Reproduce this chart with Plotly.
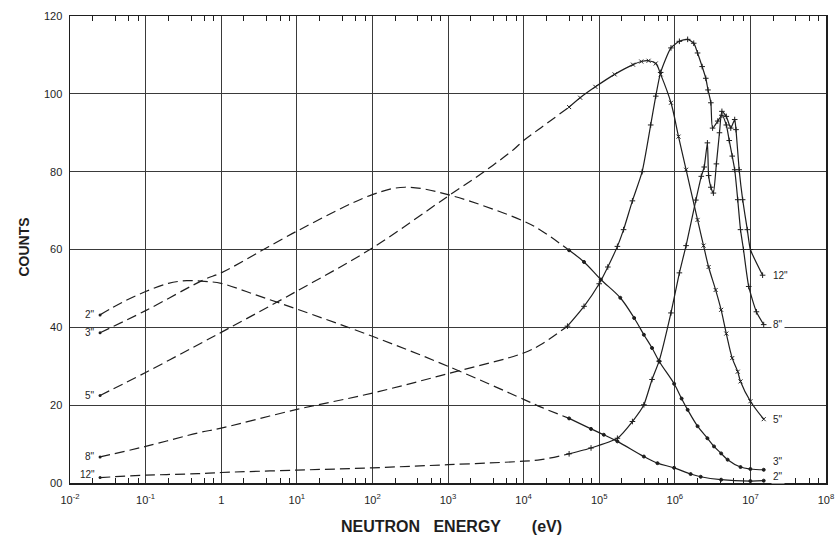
import plotly.graph_objects as go

# ---------------- data (energy in eV, counts) ----------------
e2_dash = [0.025, 0.05, 0.1, 0.2, 0.35, 0.6, 1, 3, 10, 100, 1000, 1e4, 1.7e4, 4e4]
c2_dash = [43.2, 46.5, 49.2, 51.3, 52.0, 51.8, 51.3, 48.2, 44.7, 37.7, 30.0, 21.5, 19.5, 16.6]
e2_sol = [4e4, 7.8e4, 1.15e5, 1.74e5, 3.9e5, 5.9e5, 9.8e5, 1.62e6, 2.2e6, 4.1e6, 1e7, 1.5e7]
c2_sol = [16.6, 13.9, 12.4, 10.7, 6.8, 5.1, 3.9, 2.3, 1.6, 0.85, 0.5, 0.6]

e3_dash = [0.025, 0.1, 0.6, 1, 10, 100, 270, 1000, 1e4, 1.7e4, 4e4]
c3_dash = [38.6, 44.3, 52.3, 54.0, 64.7, 74.1, 76.0, 74.1, 67.3, 64.9, 59.8]
e3_sol = [4e4, 6.3e4, 1.05e5, 1.9e5, 2.9e5, 3.9e5, 5e5, 6.2e5, 9.8e5, 1.23e6,
          1.48e6, 2e6, 2.7e6, 3.3e6, 4.1e6, 5e6, 7.4e6, 1e7, 1.5e7]
c3_sol = [59.8, 56.8, 52.3, 47.6, 42.4, 38.1, 34.7, 31.3, 25.5, 21.7,
          18.8, 14.6, 11.5, 9.4, 7.6, 6.0, 4.1, 3.6, 3.4]

e5_dash = [0.025, 0.1, 0.6, 1, 10, 100, 1000, 3000, 7400, 1e4, 1.7e4, 4e4]
c5_dash = [22.5, 28.4, 36.4, 38.7, 49.3, 60.4, 73.7, 80.0, 85.7, 88.0, 91.3, 96.6]
e5_sol = [4e4, 5.6e4, 8.9e4, 1.6e5, 2.8e5, 3.6e5, 4.5e5, 5.6e5, 6.5e5, 8.9e5, 1.12e6, 1.41e6,
          2.0e6, 2.4e6, 2.8e6, 3.47e6, 4.1e6, 4.8e6, 5.75e6, 6.8e6, 7.4e6, 1e7, 1.5e7]
c5_sol = [96.6, 99.0, 101.8, 105.0, 107.5, 108.3, 108.5, 107.8, 105.0, 97.7, 89.0, 80.5,
          67.6, 61.0, 55.5, 49.6, 44.5, 38.4, 32.1, 28.6, 26.1, 21.0, 16.4]

e8_dash = [0.025, 0.1, 0.5, 1, 10, 100, 1000, 1e4, 1.7e4, 3.8e4]
c8_dash = [6.7, 9.4, 12.9, 14.1, 18.9, 23.1, 28.1, 33.4, 35.6, 40.3]
e8_sol = [3.8e4, 6.3e4, 1e5, 1.3e5, 1.74e5, 2.1e5, 2.75e5, 3.7e5, 4.8e5, 5.6e5,
          6.5e5, 8.9e5, 1.15e6, 1.48e6, 1.78e6, 2.0e6, 2.3e6, 2.57e6, 2.75e6, 3.0e6,
          3.16e6, 3.7e6, 4.2e6, 4.8e6, 5.25e6, 5.75e6, 6.2e6, 6.8e6, 7.4e6, 8.1e6,
          9.5e6, 1.2e7, 1.5e7]
c8_sol = [40.3, 45.4, 51.2, 55.5, 60.8, 65.1, 72.5, 80.0, 92.0, 99.4,
          105.5, 111.8, 113.5, 114.0, 113.0, 110.5, 107.0, 104.0, 101.0, 97.7,
          91.2, 93.0, 94.5, 92.0, 88.0, 84.0, 80.5, 72.8, 65.1, 60.0,
          50.5, 44.0, 40.7]

e12_dash = [0.025, 0.1, 0.5, 1, 10, 100, 1000, 1e4, 1.7e4, 4e4]
c12_dash = [1.4, 2.0, 2.4, 2.7, 3.3, 3.9, 4.7, 5.6, 6.0, 7.5]
e12_sol = [4e4, 7.8e4, 1.74e5, 2.75e5, 3.9e5, 5e5, 6.2e5, 8.9e5, 1.15e6, 1.41e6, 1.9e6,
           2.24e6, 2.45e6, 2.7e6, 2.8e6, 3.0e6, 3.24e6, 3.55e6, 3.9e6, 4.2e6, 4.8e6,
           5.5e6, 6.2e6, 6.45e6, 7.1e6, 7.9e6, 9.1e6, 1e7, 1.45e7]
c12_sol = [7.5, 9.0, 11.5, 15.8, 20.1, 26.6, 31.3, 43.7, 54.0, 61.0, 72.7,
           78.8, 81.2, 87.4, 79.0, 76.0, 74.5, 82.0, 90.0, 95.5, 94.2,
           91.2, 93.4, 90.8, 80.5, 72.8, 65.1, 60.0, 53.4]

curve_names = ['2"', '3"', '5"', '8"', '12"']
dash_e = [e2_dash, e3_dash, e5_dash, e8_dash, e12_dash]
dash_c = [c2_dash, c3_dash, c5_dash, c8_dash, c12_dash]
sol_e = [e2_sol, e3_sol, e5_sol, e8_sol, e12_sol]
sol_c = [c2_sol, c3_sol, c5_sol, c8_sol, c12_sol]
marker_syms = ['circle', 'circle', 'x-thin', 'cross-thin', 'cross-thin']
sol_smooth = [1.0, 1.0, 1.0, 0.6, 0.5]

x_tickvals = [1e-2, 1e-1, 1, 1e1, 1e2, 1e3, 1e4, 1e5, 1e6, 1e7, 1e8]
x_ticktext = ['10<sup>-2</sup>', '10<sup>-1</sup>', '1', '10<sup>1</sup>', '10<sup>2</sup>',
              '10<sup>3</sup>', '10<sup>4</sup>', '10<sup>5</sup>', '10<sup>6</sup>',
              '10<sup>7</sup>', '10<sup>8</sup>']
y_tickvals = [0, 20, 40, 60, 80, 100, 120]
y_ticktext = ['00', '20', '40', '60', '80', '100', '120']
minor_mult = [2, 4, 6, 8]

right_yshift = [4, 8, 0, 0, 0]
left_yshift = [0, 0, 0, 0, 3]

INK = '#1e1e1e'
FONT = 'Liberation Sans, Arial, sans-serif'

fig = go.Figure()
for i in range(5):
    fig.add_trace(go.Scatter(
        x=dash_e[i], y=dash_c[i], mode='lines',
        line=dict(color=INK, width=1.2, dash='10px,5px', shape='spline', smoothing=1.0),
        showlegend=False, hoverinfo='skip'))
    fig.add_trace(go.Scatter(
        x=sol_e[i], y=sol_c[i], mode='lines+markers',
        line=dict(color=INK, width=1.2, shape='spline', smoothing=sol_smooth[i]),
        marker=dict(symbol=marker_syms[i], size=3 if marker_syms[i] == 'circle' else 4,
                    color=INK, line=dict(color=INK, width=1)),
        showlegend=False, hoverinfo='skip'))
    fig.add_trace(go.Scatter(
        x=[dash_e[i][0]], y=[dash_c[i][0]], mode='markers',
        marker=dict(symbol='circle', size=3, color=INK),
        showlegend=False, hoverinfo='skip'))

annotations = []
for i in range(5):
    annotations.append(dict(x=-1.6, y=dash_c[i][0], xref='x', yref='y', text=curve_names[i],
                            showarrow=False, xanchor='right', xshift=-3, yshift=left_yshift[i],
                            font=dict(size=10, color=INK, family=FONT)))
    annotations.append(dict(x=7.176, y=sol_c[i][-1], xref='x', yref='y', text=curve_names[i],
                            showarrow=False, xanchor='left', xshift=7, yshift=right_yshift[i],
                            bgcolor='white', font=dict(size=10, color=INK, family=FONT)))

annotations.append(dict(x=-0.061, y=0.506, xref='paper', yref='paper', text='<b>COUNTS</b>',
                        textangle=-90, showarrow=False, xanchor='center', yanchor='middle',
                        font=dict(size=14, color=INK, family=FONT)))
annotations.append(dict(x=0.505, y=-0.0936, xref='paper', yref='paper',
                        text='<b>NEUTRON   ENERGY       (eV)</b>', showarrow=False,
                        xanchor='center', yanchor='middle',
                        font=dict(size=16, color=INK, family=FONT)))

minor_vals = [m * 10 ** k for k in range(-2, 8) for m in minor_mult]

fig.update_layout(
    width=840, height=536,
    margin=dict(l=70, r=14, t=16, b=53, autoexpand=False),
    paper_bgcolor='white', plot_bgcolor='white',
    font=dict(family=FONT, size=11, color=INK),
    annotations=annotations,
    hovermode=False,
    xaxis=dict(type='log', range=[-2, 8], tickvals=x_tickvals, ticktext=x_ticktext,
               showgrid=True, gridcolor='#3a3a3a', gridwidth=1, automargin=False,
               showline=True, linecolor=INK, linewidth=1.5, mirror='allticks',
               ticks='', zeroline=False, ticklabelstandoff=6,
               tickfont=dict(size=11, family=FONT, color=INK),
               minor=dict(tickvals=minor_vals, ticks='inside', ticklen=5,
                          tickcolor=INK, tickwidth=1, showgrid=False)),
    yaxis=dict(range=[0, 120], tickvals=y_tickvals, ticktext=y_ticktext,
               showgrid=True, gridcolor='#3a3a3a', gridwidth=1, automargin=False,
               showline=True, linecolor=INK, linewidth=1.5, mirror=True,
               ticks='', zeroline=False, ticklabelstandoff=4,
               tickfont=dict(size=11, family=FONT, color=INK)),
)

fig.write_html('out.html', config={'displayModeBar': False, 'staticPlot': True},
               post_script="document.body.style.margin='0px';document.body.style.overflow='hidden';")
